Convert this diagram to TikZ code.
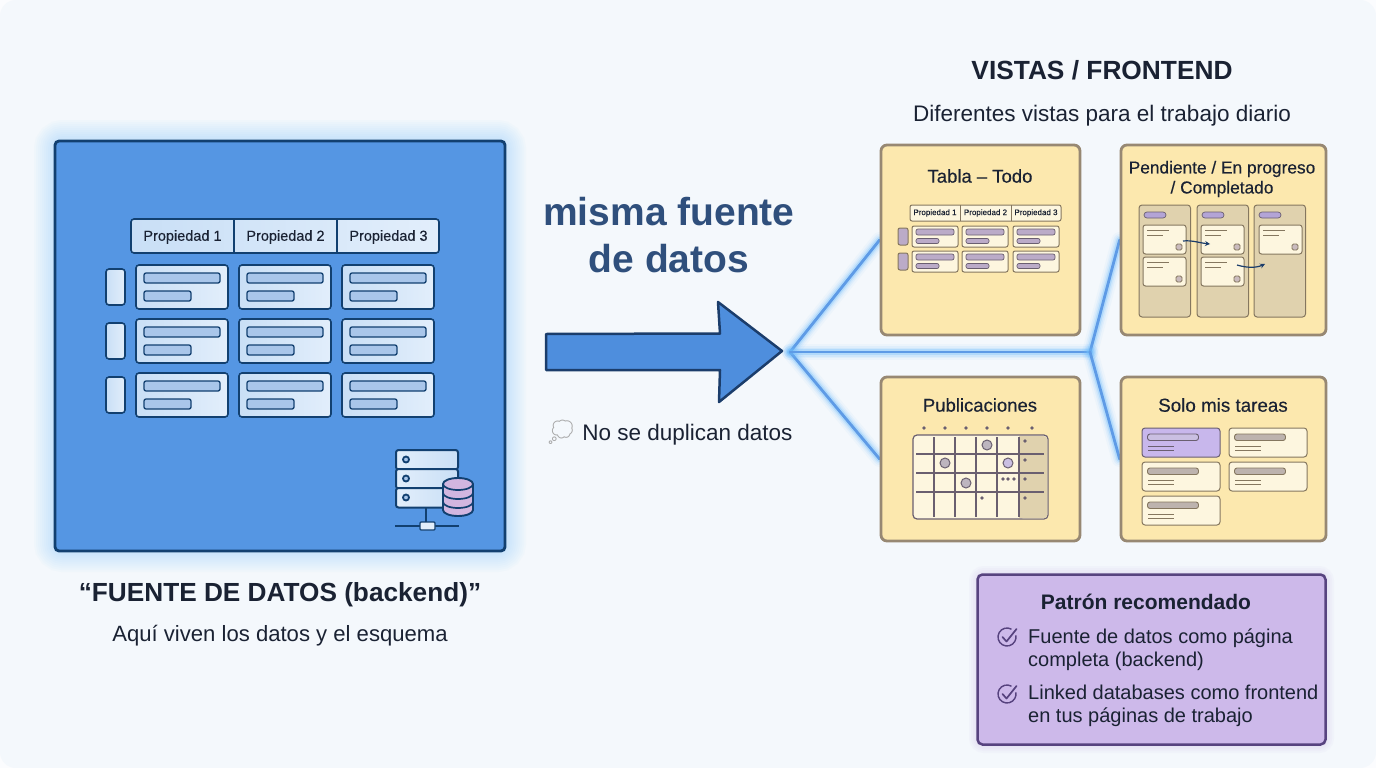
\documentclass[tikz,border=0pt]{standalone}
\usepackage{fontspec}
\setmainfont{Liberation Sans}
\newfontfamily\emojifont{Noto Emoji}
\newfontfamily\medf[FakeBold=0.35]{Liberation Sans}
\usetikzlibrary{arrows.meta}
\definecolor{bgc}{HTML}{F4F8FC}
\definecolor{ink}{HTML}{1A2233}
\definecolor{navy}{HTML}{124070}
\definecolor{bluebox}{HTML}{5596E3}
\definecolor{headblue}{HTML}{2F4F7C}
\definecolor{arrowblue}{HTML}{4E8EDD}
\definecolor{arrowdark}{HTML}{1B3D6B}
\definecolor{glowblue}{HTML}{6FBDFB}
\definecolor{linkblue}{HTML}{5E9BE6}
\definecolor{cardy}{HTML}{FCE8AE}
\definecolor{cardedge}{HTML}{978873}
\definecolor{lilac}{HTML}{BBABC8}
\definecolor{lilacd}{HTML}{6A5F70}
\definecolor{purplebox}{HTML}{CDB9EA}
\definecolor{purpleedge}{HTML}{57437F}
\definecolor{creamc}{HTML}{FDF6DF}
\definecolor{taupe}{HTML}{E0D2AE}
\definecolor{taupeedge}{HTML}{85775F}
\definecolor{C9DFF6}{HTML}{C9DFF6}
\definecolor{E2EEFB}{HTML}{E2EEFB}
\definecolor{A9C6EA}{HTML}{A9C6EA}
\pgfdeclarelayer{back}
\pgfdeclarelayer{glow}
\pgfsetlayers{back,glow,main}
\tikzset{
 txt/.style={inner sep=0pt,text=ink,align=center},
 card/.style={draw=cardedge,fill=cardy,line width=2.8pt,rounded corners=6pt,inner sep=0pt},
 cellb/.style={draw=navy,line width=1.6pt,rounded corners=3pt,left color=C9DFF6,right color=E2EEFB},
 barb/.style={draw=navy,line width=1.3pt,rounded corners=2pt,fill=A9C6EA},
 cellm/.style={draw=taupeedge,line width=1pt,rounded corners=2pt,fill=creamc},
 barm/.style={draw=lilacd,line width=.7pt,rounded corners=2pt,fill=lilac},
 thin/.style={draw=taupeedge,line width=1pt},
 link/.style={draw=linkblue,line width=2.8pt},
}
\newcommand{\fs}[1]{\fontsize{#1}{#1}\selectfont}
\newcommand{\glowline}[2]{%
 \begin{pgfonlayer}{glow}
 \foreach \w/\o in {16/.06,12/.1,9/.14,6/.3}{\draw[glowblue,line width=\w pt,opacity=\o,line cap=round] (#1) -- (#2);}
 \draw[link,line cap=round] (#1) -- (#2);
 \end{pgfonlayer}}
\begin{document}
\begin{tikzpicture}[x=1pt,y=-1pt]
\useasboundingbox (0,0) rectangle (1376,768);
\begin{pgfonlayer}{back}
\fill[white!60!bgc] (0,0) rectangle (1376,768);
\fill[bgc,rounded corners=16pt] (0,0) rectangle (1376,768);
% glow of the big box
\foreach \w in {42,38,34,30,26,22,18,14,10,6}{
 \draw[glowblue,line width=\w pt,opacity=.032,rounded corners=8pt] (55,141) rectangle (505,551);}
\foreach \w in {18,14,10,6}{
 \draw[purplebox,line width=\w pt,opacity=.08,rounded corners=6pt] (978,575) rectangle (1325,744);}
\end{pgfonlayer}

% ---- big blue box
\node[draw=navy,fill=bluebox,line width=2.8pt,rounded corners=4pt,inner sep=0pt,minimum width=450pt,minimum height=410pt] (source) at (280,346) {};
% header
\draw[cellb] (131,219) rectangle (439,253);
\draw[navy,line width=1.2pt] (234,219) -- (234,253) (337,219) -- (337,253);
\node[txt,font=\medf\fs{14.5}] (p1) at (182.5,237) {Propiedad 1};
\node[txt,font=\medf\fs{14.5}] (p2) at (285.5,237) {Propiedad 2};
\node[txt,font=\medf\fs{14.5}] (p3) at (388.5,237) {Propiedad 3};
% rows
\foreach \y in {265,319,373}{
 \draw[cellb] (106,\y+4) rectangle (125,\y+40);
 \foreach \x in {136,239,342}{
  \draw[cellb] (\x,\y) rectangle (\x+92,\y+44);
  \draw[barb] (\x+8,\y+8) rectangle (\x+84,\y+18);
  \draw[barb] (\x+8,\y+26) rectangle (\x+55,\y+36);
 }}
% server icon
\foreach \y in {450,469,488}{
 \draw[navy,line width=2pt,rounded corners=2.5pt,left color=E2EEFB,right color=C9DFF6] (396,\y) rectangle (458,\y+19.5);
 \draw[navy,line width=1.8pt,fill=A9C6EA] (406,\y+9.5) circle (3pt);
}
\draw[navy,line width=2pt] (426,508) -- (426,523);
\draw[navy,line width=1.7pt] (395,526) -- (459,526);
\draw[navy,line width=1.3pt,fill=E2EEFB,rounded corners=1pt] (420,522) rectangle (435,530);
\definecolor{dbc}{HTML}{D2B6E0}
\draw[navy,line width=1.9pt,fill=dbc] (443,484) -- (443,510) arc[start angle=180,end angle=360,x radius=15,y radius=-6] -- (473,484) arc[start angle=0,end angle=180,x radius=15,y radius=-6] -- cycle;
\draw[navy,line width=1.7pt] (443,484) arc[start angle=180,end angle=360,x radius=15,y radius=-6];
\draw[navy,line width=1.7pt] (443,493) arc[start angle=180,end angle=360,x radius=15,y radius=-6];
\draw[navy,line width=1.7pt] (443,502) arc[start angle=180,end angle=360,x radius=15,y radius=-6];

\node[txt,font=\fs{26.2}\bfseries] (srctitle) at (280,594.5) {“FUENTE DE DATOS (backend)”};
\node[txt,font=\fs{22.1}] (srcsub) at (280,636) {Aquí viven los datos y el esquema};

% ---- centre
\node[txt,font=\fs{39}\bfseries,text=headblue] (same1) at (669,212) {misma fuente};
\node[txt,font=\fs{39}\bfseries,text=headblue] (same2) at (669,259) {de datos};
\draw[draw=arrowdark,fill=arrowblue,line width=2.5pt,line join=round] (546,334) -- (720,333.5) -- (718,302) -- (782,351) -- (719,402) -- (720,370) -- (546,370) -- cycle;
\node[txt,font=\fs{22.5}] (nodup) at (669,433) {{\emojifont\fs{24}\textcolor{gray!70}{💭}} No se duplican datos};

% ---- right heading
\node[txt,font=\fs{26.3}\bfseries] (vistas) at (1102,70) {VISTAS / FRONTEND};
\node[txt,font=\fs{22.5}] (vistasub) at (1102,115.5) {Diferentes vistas para el trabajo diario};

% ---- cards
\node[card,minimum width=199pt,minimum height=190pt] (tabla) at (980.5,240) {};
\node[card,minimum width=205pt,minimum height=190pt] (kanban) at (1223.5,240) {};
\node[card,minimum width=199pt,minimum height=164pt] (publi) at (980.5,459) {};
\node[card,minimum width=205pt,minimum height=164pt] (solo) at (1223.5,459) {};

% ---- connectors
\coordinate (hub) at (790,352);
\coordinate (fork) at (1090,352);
\glowline{hub}{tabla.west}
\glowline{hub}{publi.west}
\glowline{hub}{fork}
\glowline{fork}{kanban.west}
\glowline{fork}{solo.west}

% ---- Tabla
\node[txt,font=\medf\fs{18.5}] (tablat) at (980,176) {Tabla – Todo};
\draw[cellm] (910,205) rectangle (1061,221);
\draw[thin] (960,205) -- (960,221) (1011,205) -- (1011,221);
\node[txt,font=\medf\fs{8}] (tp1) at (935,213) {Propiedad 1};
\node[txt,font=\medf\fs{8}] (tp2) at (985.5,213) {Propiedad 2};
\node[txt,font=\medf\fs{8}] (tp3) at (1036,213) {Propiedad 3};
\foreach \y in {226,251}{
 \draw[barm,draw=taupeedge,line width=1pt] (898,\y+2) rectangle (908,\y+19);
 \foreach \x in {912,962,1013}{
  \draw[cellm] (\x,\y) rectangle (\x+46,\y+21);
  \draw[barm] (\x+4,\y+3) rectangle (\x+42,\y+9);
  \draw[barm] (\x+4,\y+12.5) rectangle (\x+27,\y+17.5);
 }}

% ---- Kanban
\node[txt,font=\medf\fs{17.3}] (kant1) at (1222,169) {Pendiente / En progreso};
\node[txt,font=\medf\fs{17.3}] (kant2) at (1222,189) {/ Completado};
\definecolor{pillc}{HTML}{B3A4D6}
\foreach \x in {1139,1197,1254}{
 \draw[thin,fill=taupe,rounded corners=3pt] (\x,205) rectangle (\x+51.5,317);
 \draw[draw=lilacd,line width=.7pt,fill=pillc,rounded corners=3pt] (\x+5,212) rectangle (\x+27,218);
}
\foreach \x/\y in {1143/225,1143/257,1201/225,1201/257,1259/225}{
 \draw[thin,fill=creamc,rounded corners=2.5pt] (\x,\y) rectangle (\x+43,\y+29);
 \draw[taupeedge,line width=.9pt] (\x+4,\y+5.5) -- (\x+26,\y+5.5) (\x+4,\y+10.5) -- (\x+20,\y+10.5);
 \draw[taupeedge,line width=.9pt,fill=lilac!60!taupe,rounded corners=1.5pt] (\x+33,\y+19) rectangle (\x+39,\y+25);
}
\draw[arrowdark,line width=1.2pt,-{Stealth[length=5pt,width=5pt]}] (1183,241) .. controls (1192,240) and (1200,243) .. (1210,244);
\draw[arrowdark,line width=1.2pt,-{Stealth[length=5pt,width=5pt]}] (1237,265) .. controls (1247,268) and (1256,268) .. (1265,264);

% ---- Publicaciones
\node[txt,font=\medf\fs{18.5}] (publit) at (980,405) {Publicaciones};
\foreach \x in {924,945,966,987,1008,1032}{\fill[lilacd] (\x,428) circle (1.8pt);}
\draw[lilacd,line width=1.2pt,fill=creamc,rounded corners=4pt] (913,435) rectangle (1048,519);
\fill[taupe,rounded corners=4pt] (1019,436) rectangle (1047.4,518.4);
\fill[taupe] (1019,436) rectangle (1030,518.4);
\draw[lilacd,line width=1.2pt] (934,437) -- (934,517) (955,437) -- (955,517) (976,437) -- (976,517) (997,437) -- (997,517) (1019,437) -- (1019,517);
\draw[lilacd,line width=1.2pt] (916,454) -- (1044,454) (916,473) -- (1044,473) (916,492) -- (1044,492);
\foreach \x/\y in {1025/441,1025/460,1025/479,1025/498,982/498,1003/479,1008/479,1014/479}{\fill[lilacd] (\x,\y) circle (1.8pt);}
\definecolor{dotf}{HTML}{BDB5BF}
\foreach \x/\y in {987/445,945/463,966/483}{\draw[lilacd,line width=1pt,fill=dotf] (\x,\y) circle (5pt);}
\draw[lilacd,line width=1pt,fill=pillc!70!white] (1008,463) circle (5pt);

% ---- Solo
\node[txt,font=\medf\fs{18.8}] (solot) at (1223,405) {Solo mis tareas};
\definecolor{graybar}{HTML}{BDB3AE}
\definecolor{purpcard}{HTML}{C8B7EC}
\foreach \x/\y in {1229/428,1142/462,1229/462,1142/496}{
 \draw[thin,fill=creamc,rounded corners=3pt] (\x,\y) rectangle (\x+78,\y+29);
 \draw[taupeedge,line width=.9pt,fill=graybar,rounded corners=2.5pt] (\x+5.5,\y+6) rectangle (\x+56.5,\y+12.5);
 \draw[taupeedge,line width=.9pt] (\x+6,\y+18) -- (\x+32,\y+18) (\x+6,\y+22) -- (\x+32,\y+22);
}
\draw[draw=lilacd,line width=1pt,fill=purpcard,rounded corners=3pt] (1142,428) rectangle (1220,457);
\draw[draw=lilacd,line width=.9pt,fill=pillc!70!white,rounded corners=2.5pt] (1147.5,434) rectangle (1198.5,440.5);
\draw[lilacd,line width=.9pt] (1148,446) -- (1174,446) (1148,450) -- (1174,450);

% ---- recommended box
\node[draw=purpleedge,fill=purplebox,line width=2.5pt,rounded corners=5pt,inner sep=0pt,minimum width=348pt,minimum height=170pt] (patron) at (1151.5,659.5) {};
\node[txt,font=\fs{21}\bfseries] (patront) at (1146,602) {Patrón recomendado};
\foreach \n/\y/\t in {a/638/Fuente de datos como página,b/661/completa (backend),c/692/Linked databases como frontend,d/717/en tus páginas de trabajo}{
 \node[txt,font=\fs{20},anchor=west] (pl\n) at (1028,\y) {\t};}
\foreach \y in {637,694}{
 \draw[purpleedge,line width=1.4pt] (1011.5,\y-7.8) arc[start angle=60,end angle=370,radius=9pt];
 \draw[purpleedge,line width=1.7pt,line cap=round,line join=round] (1002.5,\y) -- (1006.5,\y+4.5) -- (1016.5,\y-8);
}
\end{tikzpicture}
\end{document}
